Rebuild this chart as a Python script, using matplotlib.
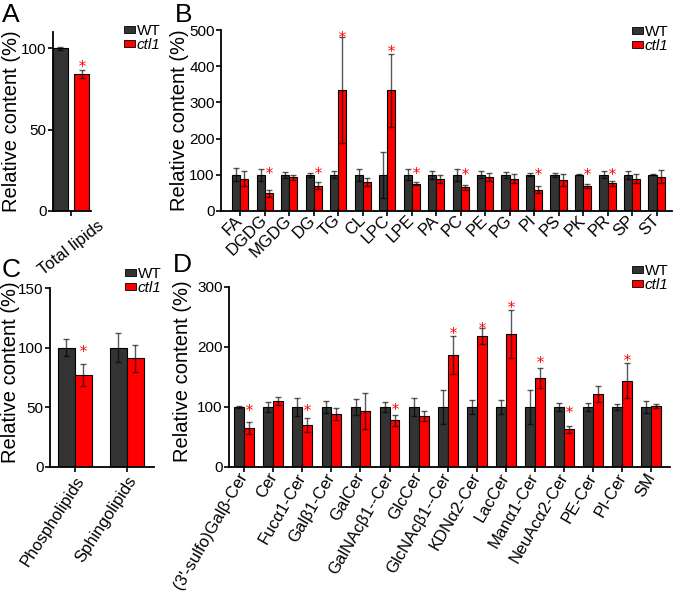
import matplotlib
matplotlib.use("Agg")
import matplotlib.pyplot as plt
from matplotlib.patches import Patch
import numpy as np

plt.rcParams['font.family'] = ['Liberation Sans', 'DejaVu Sans']

# ---------------- data ----------------
a_cats = ["Total lipids"]
a_wt = [100]
a_wt_err = [1]
a_mut = [84]
a_mut_err = [2.5]
a_star = [91]

b_cats = ["FA", "DGDG", "MGDG", "DG", "TG", "CL", "LPC", "LPE", "PA", "PC",
          "PE", "PG", "PI", "PS", "PK", "PR", "SP", "ST"]
b_wt = [100] * 18
b_wt_err = [18, 17, 8, 6, 10, 16, 64, 15, 11, 16, 10, 9, 4, 6, 1, 10, 11, 1]
b_mut = [89, 49, 93, 70, 335, 80, 334, 75, 88, 65, 94, 89, 59, 85, 69, 76, 89, 94]
b_mut_err = [21, 10, 6, 10, 147, 12, 101, 4, 12, 7, 11, 12, 9, 17, 5, 7, 13, 18]
b_star = [None, 112, None, 112, 490, None, 449, 112, None, 111,
          None, None, 111, None, 111, 111, None, None]

c_cats = ["Phospholipids", "Sphingolipids"]
c_wt = [100, 100]
c_wt_err = [7, 12]
c_mut = [77, 91]
c_mut_err = [9, 11.5]
c_star = [100, None]

d_cats = ["(3'-sulfo)Galβ-Cer", "Cer", "Fucα1-Cer", "Galβ1-Cer", "GalCer",
          "GalNAcβ1--Cer", "GlcCer", "GlcNAcβ1--Cer", "KDNα2-Cer", "LacCer",
          "Manα1-Cer", "NeuAcα2-Cer", "PE-Cer", "PI-Cer", "SM"]
d_wt = [100] * 15
d_wt_err = [1, 8, 15, 10, 13, 9, 15, 28, 12, 12, 28, 7, 7, 5, 10]
d_mut = [65, 110, 70, 89, 93, 78, 85, 187, 218, 221, 148, 63, 122, 144, 102]
d_mut_err = [10, 7, 11, 10, 30, 9, 8, 32, 13, 40, 17, 6, 13, 29, 3]
d_star = [100, None, 100, None, None, 101, None, 229, 237, 271, 180, 96, None, 184, None]

series_labels = ["WT", "ctl1"]
wt_color = "#333333"
mut_color = "#ff0000"

W, H = 673, 594
fig = plt.figure(figsize=(W / 100, H / 100), dpi=100)


def rect(left, right, top, bottom):
    return [left / W, (H - bottom) / H, (right - left) / W, (bottom - top) / H]


def panel(r, cats, wt, wt_err, mut, mut_err, stars, xlim, off, width,
          ylim, yticks, rot, lab_kw, ylab_xy):
    ax = fig.add_axes(r)
    x = np.arange(len(cats))
    ax.bar(x - off, wt, width, color=wt_color, edgecolor="black", linewidth=0.8, zorder=2)
    ax.bar(x + off, mut, width, color=mut_color, edgecolor="black", linewidth=0.8, zorder=2)
    ekw = dict(fmt="none", ecolor="black", alpha=0.65, elinewidth=1.0,
               capsize=2.3, capthick=1.0, zorder=3)
    ax.errorbar(x - off, wt, yerr=wt_err, **ekw)
    ax.errorbar(x + off, mut, yerr=mut_err, **ekw)
    for xi, s in zip(x, stars):
        if s is not None:
            ax.plot(xi + off, s, marker="$*$", color="red", markersize=5,
                    markeredgewidth=0, zorder=4)
    ax.set_xlim(*xlim)
    ax.set_ylim(*ylim)
    ax.set_yticks(yticks)
    ax.set_xticks(x)
    ax.set_xticklabels(cats, rotation=rot, fontsize=12, **lab_kw)
    ax.tick_params(axis="y", labelsize=11, length=3.5, width=1.2, pad=1)
    ax.tick_params(axis="x", length=3.5, width=1.2, pad=1.5)
    for s in ["top", "right"]:
        ax.spines[s].set_visible(False)
    for s in ["left", "bottom"]:
        ax.spines[s].set_linewidth(1.3)
    ax.set_ylabel("Relative content (%)", fontsize=14.5)
    ax.yaxis.set_label_coords(*ylab_xy)
    return ax


anch_c = dict(ha="right", va="center", rotation_mode="anchor")
anch_t = dict(ha="right", va="top", rotation_mode="anchor")

axA = panel(rect(53, 91, 32, 211), a_cats, a_wt, a_wt_err, a_mut, a_mut_err, a_star,
            (-0.47, 0.53), 0.28, 0.4, (0, 110), [0, 50, 100], 38,
            dict(ha="center", va="top"), (-0.84, 0.5))
axB = panel(rect(221, 672, 30, 211), b_cats, b_wt, b_wt_err, b_mut, b_mut_err, b_star,
            (-0.78, 17.63), 0.165, 0.33, (0, 500), [0, 100, 200, 300, 400, 500], 45,
            anch_c, (-0.07, 0.5))
axC = panel(rect(50, 154, 288, 467), c_cats, c_wt, c_wt_err, c_mut, c_mut_err, c_star,
            (-0.48, 1.52), 0.163, 0.327, (0, 150), [0, 50, 100, 150], 57, anch_t,
            (-0.29, 0.53))
axD = panel(rect(229, 670, 287, 467), d_cats, d_wt, d_wt_err, d_mut, d_mut_err, d_star,
            (-0.52, 14.64), 0.17, 0.34, (0, 300), [0, 100, 200, 300], 60, anch_c,
            (-0.085, 0.53))

handles = [Patch(facecolor=wt_color, edgecolor="black", linewidth=0.6),
           Patch(facecolor=mut_color, edgecolor="black", linewidth=0.6)]

for (lx, ly) in [(124, 24), (632, 25), (125, 267), (632, 264)]:
    leg = fig.legend(handles, series_labels, loc="upper left",
                     bbox_to_anchor=(lx / W, 1 - ly / H), frameon=False,
                     fontsize=11, handlelength=0.72, handleheight=0.4,
                     handletextpad=0.13, labelspacing=0.0, borderpad=0,
                     borderaxespad=0)
    leg.get_texts()[1].set_fontstyle("italic")

for letter, (px, py) in zip("ABCD", [(2, 22), (175, 22), (2, 277), (173, 272)]):
    fig.text(px / W, 1 - py / H, letter, fontsize=19, ha="left", va="baseline")

fig.savefig("out.png", dpi=100)
